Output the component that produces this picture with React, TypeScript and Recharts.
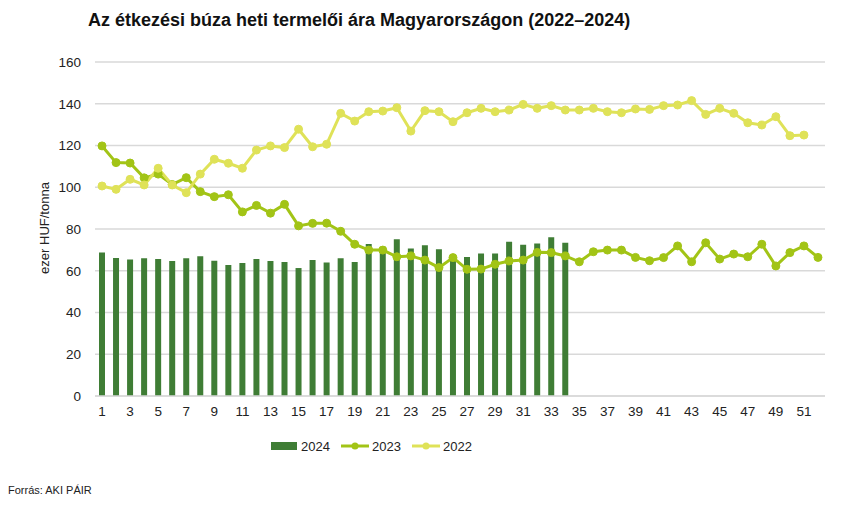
import React from "react";
import {
  ComposedChart,
  Bar,
  Line,
  XAxis,
  YAxis,
  CartesianGrid,
} from "recharts";

const weeks: number[] = [
  1, 2, 3, 4, 5, 6, 7, 8, 9, 10, 11, 12, 13, 14, 15, 16, 17, 18, 19, 20, 21, 22, 23, 24, 25, 26,
  27, 28, 29, 30, 31, 32, 33, 34, 35, 36, 37, 38, 39, 40, 41, 42, 43, 44, 45, 46, 47, 48, 49, 50,
  51, 52,
];

const values2024: number[] = [
  68.8, 66.1, 65.4, 66.0, 65.6, 64.7, 66.0, 67.0, 64.8, 62.8, 63.7, 65.6, 64.7, 64.2, 61.3, 65.1,
  64.0, 66.0, 64.2, 72.8, 71.5, 75.1, 70.7, 72.2, 70.3, 66.8, 66.6, 68.3, 68.3, 73.9, 72.5, 73.1,
  76.0, 73.4,
];

const values2023: number[] = [
  119.8, 111.8, 111.6, 104.5, 106.3, 101.3, 104.6, 97.9, 95.5, 96.4, 88.2, 91.3, 87.6, 91.8, 81.5,
  82.7, 82.8, 78.9, 72.7, 69.9, 69.9, 66.7, 67.1, 65.1, 61.5, 66.3, 60.7, 60.8, 63.1, 64.7, 65.1,
  68.8, 68.7, 67.1, 64.3, 69.1, 69.9, 69.9, 66.4, 64.8, 66.3, 71.9, 64.3, 73.4, 65.6, 68.0, 66.7,
  72.7, 62.3, 68.7, 71.9, 66.4,
];

const values2022: number[] = [
  100.6, 99.0, 103.8, 101.1, 109.1, 101.1, 97.4, 106.3, 113.4, 111.5, 109.1, 117.8, 119.8, 119.0,
  127.8, 119.4, 120.6, 135.4, 131.7, 136.2, 136.5, 138.1, 126.9, 136.7, 136.2, 131.4, 135.7, 137.8,
  136.2, 137.0, 139.7, 137.8, 139.1, 137.0, 137.0, 137.8, 136.2, 135.7, 137.5, 137.3, 139.1, 139.4,
  141.5, 134.9, 137.8, 135.4, 130.9, 129.8, 133.8, 124.7, 125.0,
];

const yTicks: number[] = [0, 20, 40, 60, 80, 100, 120, 140, 160];

const seriesNames = { y2024: "2024", y2023: "2023", y2022: "2022" };

const COLOR_2024 = "#3f7d35";
const COLOR_2023 = "#a2c416";
const COLOR_2022 = "#dfe258";
const FONT = "'Liberation Sans', Arial, sans-serif";

const data = weeks.map((w, i) => ({
  week: w,
  y2024: values2024[i],
  y2023: values2023[i],
  y2022: values2022[i],
}));

const LegendBox = () => (
  <svg width={856} height={20} style={{ display: "block" }}>
    <rect x={271} y={6} width={26} height={8} fill={COLOR_2024} />
    <text x={301} y={14.5} fontSize={13} fontFamily={FONT} fill="#222">
      {seriesNames.y2024}
    </text>
    <line x1={341} y1={10} x2={369} y2={10} stroke={COLOR_2023} strokeWidth={3} />
    <circle cx={355} cy={10} r={3.5} fill={COLOR_2023} />
    <text x={372} y={14.5} fontSize={13} fontFamily={FONT} fill="#222">
      {seriesNames.y2023}
    </text>
    <line x1={412} y1={10} x2={440} y2={10} stroke={COLOR_2022} strokeWidth={3} />
    <circle cx={426} cy={10} r={3.5} fill={COLOR_2022} />
    <text x={443} y={14.5} fontSize={13} fontFamily={FONT} fill="#222">
      {seriesNames.y2022}
    </text>
  </svg>
);

export default function App() {
  return (
    <div
      style={{
        position: "absolute",
        left: 0,
        top: 0,
        width: 856,
        height: 516,
        background: "#fff",
        fontFamily: FONT,
      }}
    >
      <div
        style={{
          position: "absolute",
          left: 88,
          top: 9,
          fontSize: 18,
          fontWeight: "bold",
          color: "#111",
          whiteSpace: "nowrap",
          lineHeight: "22px",
        }}
      >
        Az étkezési búza heti termelői ára Magyarországon (2022–2024)
      </div>
      <div
        style={{
          position: "absolute",
          left: 44,
          top: 228,
          transform: "translate(-50%, -50%) rotate(-90deg)",
          fontSize: 13,
          color: "#222",
          whiteSpace: "nowrap",
        }}
      >
        ezer HUF/tonna
      </div>
      <div
        style={{
          position: "absolute",
          left: 8,
          top: 484,
          fontSize: 11,
          color: "#222",
          whiteSpace: "nowrap",
        }}
      >
        Forrás: AKI PÁIR
      </div>
      <div style={{ position: "absolute", left: 0, top: 0 }}>
        <ComposedChart
          width={856}
          height={516}
          data={data}
          margin={{ top: 62, right: 31, bottom: 90, left: 0 }}
          barCategoryGap={0}
        >
          <CartesianGrid vertical={false} stroke="#d9d9d9" strokeWidth={1.5} />
          <XAxis
            dataKey="week"
            height={30}
            interval={1}
            tickLine={false}
            tickSize={0}
            tickMargin={10}
            axisLine={{ stroke: "#d9d9d9", strokeWidth: 1.5 }}
            tick={{ fontSize: 13.5, fill: "#222", fontFamily: FONT }}
          />
          <YAxis
            width={95}
            domain={[0, 160]}
            ticks={yTicks}
            tickLine={false}
            tickSize={0}
            tickMargin={14}
            axisLine={false}
            tick={{ fontSize: 13.5, fill: "#222", fontFamily: FONT }}
          />
          <Bar
            dataKey="y2024"
            name={seriesNames.y2024}
            fill={COLOR_2024}
            barSize={6}
            isAnimationActive={false}
          />
          <Line
            dataKey="y2023"
            name={seriesNames.y2023}
            stroke={COLOR_2023}
            strokeWidth={3}
            dot={{ r: 4, fill: COLOR_2023, stroke: COLOR_2023, strokeWidth: 1 }}
            activeDot={false}
            isAnimationActive={false}
          />
          <Line
            dataKey="y2022"
            name={seriesNames.y2022}
            stroke={COLOR_2022}
            strokeWidth={3}
            dot={{ r: 4, fill: COLOR_2022, stroke: COLOR_2022, strokeWidth: 1 }}
            activeDot={false}
            isAnimationActive={false}
          />
        </ComposedChart>
      </div>
      <div style={{ position: "absolute", left: 0, top: 436 }}>
        <LegendBox />
      </div>
    </div>
  );
}
